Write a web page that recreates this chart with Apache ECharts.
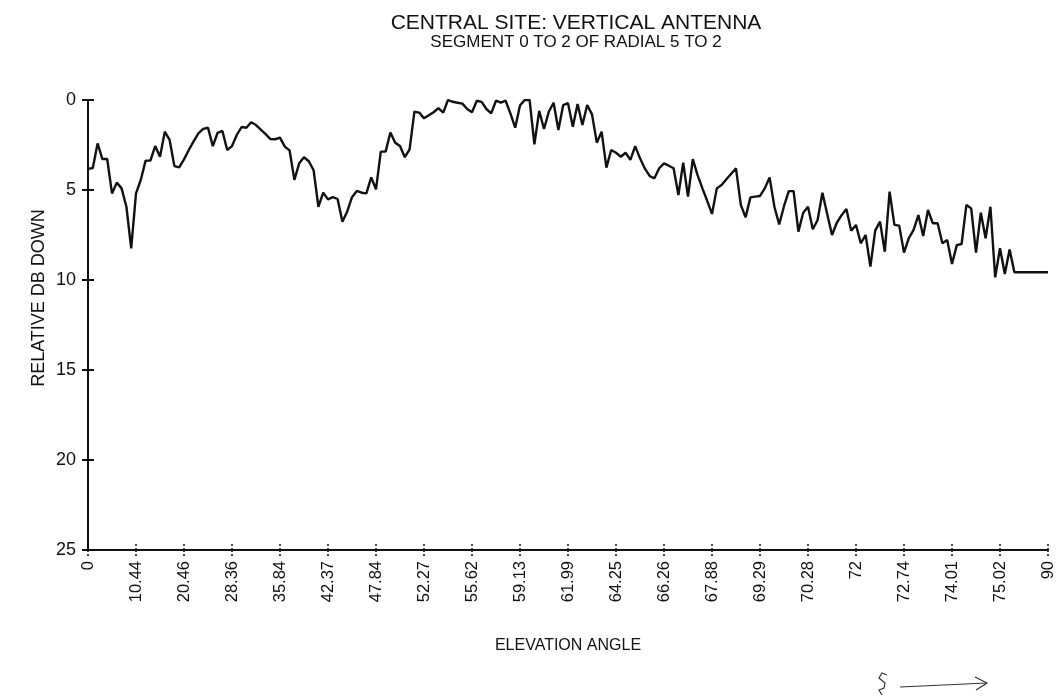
<!DOCTYPE html>
<html>
<head>
<meta charset="utf-8">
<script src="https://cdn.jsdelivr.net/npm/echarts/dist/echarts.min.js"></script>
<style>
  html, body { margin: 0; padding: 0; background: #fff; }
  #chart { width: 1057px; height: 698px; }
</style>
</head>
<body>
<div id="chart"></div>
<script>
// Elevation-angle labels shown every tenth sample along the x axis
const tickLabels = ['0', '10.44', '20.46', '28.36', '35.84', '42.37', '47.84', '52.27', '55.62', '59.13',
  '61.99', '64.25', '66.26', '67.88', '69.29', '70.28', '72', '72.74', '74.01', '75.02', '90'];

// Relative dB down, one value per sample (201 samples)
const dbDown = [
  3.83, 3.78, 2.41, 3.28, 3.28, 5.19, 4.59, 4.91, 5.93, 8.24,
  5.19, 4.44, 3.37, 3.37, 2.56, 3.15, 1.76, 2.22, 3.67, 3.74,
  3.30, 2.78, 2.30, 1.85, 1.60, 1.54, 2.56, 1.82, 1.72, 2.78,
  2.56, 1.94, 1.50, 1.54, 1.24, 1.39, 1.65, 1.90, 2.17, 2.18,
  2.09, 2.59, 2.80, 4.44, 3.52, 3.18, 3.40, 3.90, 5.93, 5.15,
  5.52, 5.40, 5.50, 6.76, 6.20, 5.40, 5.05, 5.15, 5.19, 4.30,
  4.96, 2.87, 2.87, 1.81, 2.37, 2.56, 3.18, 2.74, 0.65, 0.70,
  1.02, 0.85, 0.68, 0.45, 0.70, 0.00, 0.10, 0.15, 0.20, 0.50,
  0.68, 0.04, 0.10, 0.50, 0.74, 0.04, 0.15, 0.04, 0.74, 1.54,
  0.30, 0.00, 0.00, 2.46, 0.60, 1.61, 0.65, 0.15, 1.67, 0.28,
  0.18, 1.48, 0.22, 1.39, 0.28, 0.80, 2.37, 1.76, 3.76, 2.78,
  2.93, 3.15, 2.93, 3.33, 2.56, 3.24, 3.80, 4.22, 4.35, 3.79,
  3.52, 3.65, 3.79, 5.28, 3.48, 5.37, 3.28, 4.17, 4.91, 5.60,
  6.33, 4.91, 4.72, 4.40, 4.10, 3.80, 5.83, 6.52, 5.41, 5.37,
  5.33, 4.91, 4.30, 5.93, 6.91, 5.90, 5.06, 5.06, 7.31, 6.26,
  5.93, 7.18, 6.67, 5.15, 6.33, 7.50, 6.82, 6.40, 6.06, 7.26,
  6.94, 7.96, 7.50, 9.26, 7.26, 6.76, 8.43, 5.09, 6.94, 6.98,
  8.48, 7.68, 7.22, 6.39, 7.56, 6.11, 6.85, 6.85, 7.96, 7.78,
  9.11, 8.06, 8.00, 5.83, 6.02, 8.48, 6.26, 7.68, 5.93, 9.85,
  8.24, 9.67, 8.30, 9.57, 9.57, 9.57, 9.57, 9.57, 9.57, 9.57,
  9.57
];

const yTicks = { min: 0, max: 25, step: 5 };

// Category names: a tick label at every tenth sample, blank elsewhere
const categories = dbDown.map((_, i) => (i % 10 === 0 ? tickLabels[i / 10] : ''));

const FONT = '"Liberation Sans", Arial, Helvetica, sans-serif';
const INK = '#111';

// Plot area in pixels
const PLOT = { left: 88, right: 9, top: 100, bottom: 148 };
const PLOT_W = 1057 - PLOT.left - PLOT.right;
const PLOT_H = 698 - PLOT.top - PLOT.bottom;

const xTick = { show: true, interval: 9, length: 6, lineStyle: { color: INK, width: 1.5, type: [2, 2] } };
const yTick = { show: true, length: 6, lineStyle: { color: INK, width: 2 } };

const chart = echarts.init(document.getElementById('chart'), null, { renderer: 'canvas' });

chart.setOption({
  animation: false,
  backgroundColor: '#fff',
  title: {
    text: 'CENTRAL SITE: VERTICAL ANTENNA',
    subtext: 'SEGMENT 0 TO 2 OF RADIAL 5 TO 2',
    left: 571,
    textAlign: 'center',
    top: 8,
    itemGap: 0,
    textStyle: { fontFamily: FONT, fontSize: 21, fontWeight: 'normal', color: INK },
    subtextStyle: { fontFamily: FONT, fontSize: 17, color: INK }
  },
  grid: { left: PLOT.left, right: PLOT.right, top: PLOT.top, bottom: PLOT.bottom, containLabel: false },
  xAxis: [
    {
      type: 'category',
      data: categories,
      boundaryGap: false,
      position: 'bottom',
      name: 'ELEVATION ANGLE',
      nameLocation: 'middle',
      nameGap: 88,
      nameTextStyle: { fontFamily: FONT, fontSize: 16, color: INK },
      axisLine: { show: true, onZero: false, lineStyle: { color: INK, width: 2 } },
      axisTick: xTick,
      axisLabel: { interval: 9, rotate: 90, margin: 11, fontFamily: FONT, fontSize: 16.5, color: INK },
      splitLine: { show: false }
    },
    {
      // companion axis drawn on the bottom edge so the tick marks cross the line
      type: 'category',
      data: categories,
      boundaryGap: false,
      position: 'top',
      offset: -PLOT_H,
      axisLine: { show: false, onZero: false },
      axisTick: xTick,
      axisLabel: { show: false },
      splitLine: { show: false }
    }
  ],
  yAxis: [
    {
      type: 'value',
      inverse: true,
      min: yTicks.min,
      max: yTicks.max,
      interval: yTicks.step,
      position: 'left',
      axisLine: { show: true, onZero: false, lineStyle: { color: INK, width: 2 } },
      axisTick: yTick,
      axisLabel: { margin: 12, fontFamily: FONT, fontSize: 18, color: INK },
      splitLine: { show: false }
    },
    {
      // companion axis drawn on the left edge so the tick marks cross the line
      type: 'value',
      inverse: true,
      min: yTicks.min,
      max: yTicks.max,
      interval: yTicks.step,
      position: 'right',
      offset: -PLOT_W,
      axisLine: { show: false, onZero: false },
      axisTick: yTick,
      axisLabel: { show: false },
      splitLine: { show: false }
    }
  ],
  series: [
    {
      type: 'line',
      xAxisIndex: 0,
      yAxisIndex: 0,
      data: dbDown,
      symbol: 'none',
      lineStyle: { color: INK, width: 2.4 },
      silent: true
    }
  ],
  graphic: [
    {
      type: 'text',
      x: 39,
      y: 298,
      rotation: Math.PI / 2,
      style: {
        text: 'RELATIVE DB DOWN',
        fontFamily: FONT,
        fontSize: 18,
        fill: INK,
        textAlign: 'center',
        textVerticalAlign: 'middle'
      }
    },
    {
      type: 'polyline',
      shape: { points: [[887, 675], [882, 673], [879, 678], [885, 683], [884, 688], [879, 690], [882, 695]] },
      style: { stroke: '#333', lineWidth: 1.2, fill: null }
    },
    {
      type: 'polyline',
      shape: { points: [[900, 687], [987, 683]] },
      style: { stroke: '#333', lineWidth: 1.2, fill: null }
    },
    {
      type: 'polyline',
      shape: { points: [[975, 677], [987, 683], [976, 690]] },
      style: { stroke: '#333', lineWidth: 1.2, fill: null }
    }
  ]
});
</script>
</body>
</html>
